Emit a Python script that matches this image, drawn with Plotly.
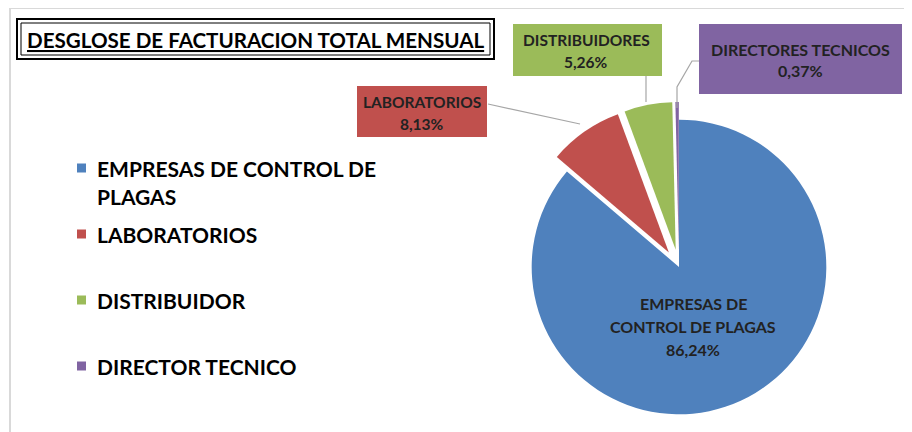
import plotly.graph_objects as go

# ---- data ----
legend_labels = ["EMPRESAS DE CONTROL DE<br>PLAGAS", "LABORATORIOS", "DISTRIBUIDOR", "DIRECTOR TECNICO"]
slice_labels = ["EMPRESAS DE<br>CONTROL DE PLAGAS", "LABORATORIOS", "DISTRIBUIDORES", "DIRECTORES TECNICOS"]
values = [86.24, 8.13, 5.26, 0.37]
colors = ["#4F81BD", "#C0504D", "#9BBB59", "#8064A2"]
pulls = [0, 0.12, 0.12, 0.12]
title_text = "DESGLOSE DE FACTURACION TOTAL MENSUAL"

# page body has an 8px margin; figure is sized to fill the visible window
OFF = 8
W, H = 912 - OFF, 432 - OFF
FONT = "Lato"


def px(x):
    return (x - OFF) / W


def py(y):
    return 1 - (y - OFF) / H


def pct(v):
    return f"{v:.2f}".replace(".", ",") + "%"


fig = go.Figure()
fig.add_trace(go.Pie(
    labels=[l.replace("<br>", " ") for l in legend_labels],
    values=values,
    sort=False,
    direction="clockwise",
    rotation=0,
    pull=pulls,
    marker=dict(colors=colors, line=dict(width=0)),
    textinfo="none",
    hoverinfo="label+percent",
    showlegend=False,
    domain=dict(x=[px(514), px(844)], y=[0, py(102)]),
))

shapes = []
annotations = []

# outer chart frame
shapes.append(dict(type="rect", xref="paper", yref="paper",
                   x0=px(10), x1=px(906), y0=py(8), y1=py(445),
                   line=dict(color="#D9D9D9", width=2), fillcolor="rgba(0,0,0,0)", layer="below"))

# title with double border
shapes.append(dict(type="rect", xref="paper", yref="paper",
                   x0=px(17), x1=px(494), y0=py(19), y1=py(59),
                   line=dict(color="#000000", width=2)))
shapes.append(dict(type="rect", xref="paper", yref="paper",
                   x0=px(21), x1=px(490), y0=py(23), y1=py(55),
                   line=dict(color="#000000", width=1)))
annotations.append(dict(xref="paper", yref="paper", x=px(256), y=py(40),
                        text=f"<b><u>{title_text}</u></b>", showarrow=False,
                        xanchor="center", yanchor="middle",
                        font=dict(family=FONT, size=20.6, color="#000000")))

# legend (manual)
legend_y = [168, 234, 300, 366]
for lab, col, yy in zip(legend_labels, colors, legend_y):
    shapes.append(dict(type="rect", xref="paper", yref="paper",
                       x0=px(77), x1=px(86), y0=py(yy - 4.5), y1=py(yy + 4.5),
                       line=dict(width=0), fillcolor=col))
    lines = lab.split("<br>")
    for i, ln in enumerate(lines):
        annotations.append(dict(xref="paper", yref="paper", x=px(95), y=py(yy + i * 29),
                                text=f"<b>{ln}</b>", showarrow=False,
                                xanchor="left", yanchor="middle",
                                font=dict(family=FONT, size=21, color="#000000")))

# data-label boxes (for slices 1..3) and inside label for slice 0
boxes = {1: (357, 487, 86, 137), 2: (513, 662, 24, 76), 3: (699, 902, 24, 94)}
label_centers = {0: (693, 326), 1: (422, 113), 2: (586, 51), 3: (800, 60)}
line_gap = {0: 23, 1: 22, 2: 22, 3: 21}
font_sizes = {0: 16, 1: 15.5, 2: 15.5, 3: 16}

for i, (lab, v, col) in enumerate(zip(slice_labels, values, colors)):
    if i in boxes:
        x0, x1, y0, y1 = boxes[i]
        shapes.append(dict(type="rect", xref="paper", yref="paper",
                           x0=px(x0), x1=px(x1), y0=py(y0), y1=py(y1),
                           line=dict(width=0), fillcolor=col))
    lines = lab.split("<br>") + [pct(v)]
    cx, cy = label_centers[i]
    n = len(lines)
    for k, ln in enumerate(lines):
        yy = cy + (k - (n - 1) / 2) * line_gap[i]
        annotations.append(dict(xref="paper", yref="paper", x=px(cx), y=py(yy),
                                text=f"<b>{ln}</b>", showarrow=False,
                                xanchor="center", yanchor="middle",
                                font=dict(family=FONT, size=font_sizes[i], color="#222222")))

# leader lines
leaders = [
    [(488, 104), (580, 124)],
    [(646, 76), (646, 102)],
    [(699, 61), (692, 61), (677, 87), (677, 108)],
]
for pts in leaders:
    path = "M " + " L ".join(f"{px(x)},{py(y)}" for x, y in pts)
    shapes.append(dict(type="path", xref="paper", yref="paper", path=path,
                       line=dict(color="#A6A6A6", width=1.2)))

fig.update_layout(
    width=W, height=H,
    margin=dict(l=0, r=0, t=0, b=0),
    paper_bgcolor="#FFFFFF",
    plot_bgcolor="#FFFFFF",
    shapes=shapes,
    annotations=annotations,
    showlegend=False,
)

fig.write_html("out.html")
